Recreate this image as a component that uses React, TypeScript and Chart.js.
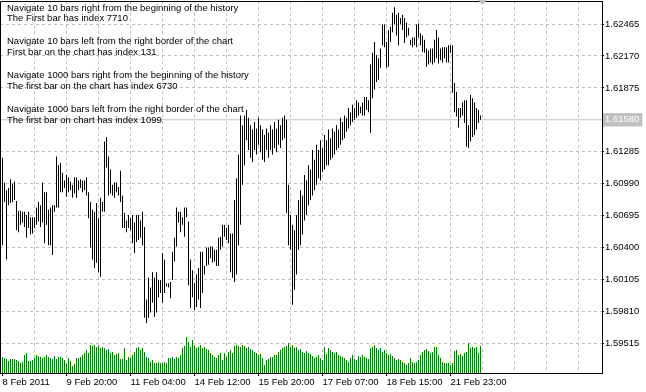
import React, { useEffect, useRef } from "react";
import { Chart, registerables } from "chart.js";

Chart.register(...registerables);

// ---- data -------------------------------------------------------------
const xLabels = [
  "8 Feb 2011",
  "9 Feb 20:00",
  "11 Feb 04:00",
  "14 Feb 12:00",
  "15 Feb 20:00",
  "17 Feb 07:00",
  "18 Feb 15:00",
  "21 Feb 23:00",
];

const priceTicks = [
  1.59515, 1.5981, 1.60105, 1.604, 1.60695, 1.6099, 1.61285, 1.6158, 1.61875,
  1.6217, 1.62465,
];

const bidPrice = 1.6158;
const priceMin = 1.5924;
const priceMax = 1.62678;

const comments = [
  "Navigate 10 bars right from the beginning of the history",
  "The First bar has index 7710",
  "Navigate 10 bars left from the right border of the chart",
  "First bar on the chart has index 131",
  "Navigate 1000 bars right from the beginning of the history",
  "The first bar on the chart has index 6730",
  "Navigate 1000 bars left from the right border of the chart",
  "The first bar on chart has index 1099",
];

const highs = [
  1.6123, 1.61, 1.6093, 1.6095, 1.6103, 1.6099, 1.6101, 1.6083, 1.6074, 1.6074,
  1.6073, 1.6073, 1.607, 1.6073, 1.6068, 1.6068, 1.6068, 1.6077, 1.6082, 1.6079,
  1.61, 1.6091, 1.6091, 1.6075, 1.6077, 1.6079, 1.6079, 1.6124, 1.6116, 1.6118,
  1.6109, 1.6102, 1.6107, 1.6105, 1.6101, 1.6098, 1.6105, 1.6105, 1.6102, 1.6103,
  1.6102, 1.6102, 1.6105, 1.6091, 1.6082, 1.6075, 1.6073, 1.6081, 1.6067, 1.6086,
  1.6082, 1.6138, 1.6142, 1.6124, 1.6112, 1.6098, 1.61, 1.61, 1.6096, 1.6111,
  1.6088, 1.6072, 1.6065, 1.607, 1.6067, 1.607, 1.6063, 1.607, 1.607, 1.6065,
  1.6073, 1.6059, 1.5992, 1.6012, 1.6003, 1.6017, 1.6012, 1.6017, 1.601, 1.601,
  1.6035, 1.6029, 1.6007, 1.6007, 1.6008, 1.6036, 1.6049, 1.6077, 1.6073, 1.6073,
  1.6068, 1.6077, 1.6077, 1.6064, 1.6029, 1.6019, 1.6007, 1.6015, 1.6021, 1.6036,
  1.6036, 1.6023, 1.604, 1.604, 1.6041, 1.6041, 1.6038, 1.6038, 1.6049, 1.605,
  1.6061, 1.6061, 1.6058, 1.6061, 1.6053, 1.6053, 1.6084, 1.6104, 1.6126, 1.6162,
  1.6153, 1.6162, 1.6167, 1.616, 1.6153, 1.6149, 1.6156, 1.615, 1.616, 1.6153,
  1.6149, 1.6144, 1.615, 1.6146, 1.6153, 1.6149, 1.6156, 1.615, 1.6158, 1.6153,
  1.616, 1.6162, 1.6158, 1.6098, 1.607, 1.6061, 1.6056, 1.607, 1.6084, 1.6093,
  1.6088, 1.6107, 1.6102, 1.6116, 1.6112, 1.613, 1.6121, 1.6135, 1.613, 1.6139,
  1.6132, 1.6144, 1.6139, 1.6149, 1.6141, 1.615, 1.6147, 1.6153, 1.6149, 1.616,
  1.6156, 1.6162, 1.616, 1.6169, 1.6165, 1.6172, 1.6169, 1.6176, 1.6174, 1.617,
  1.6174, 1.6179, 1.6179, 1.6176, 1.6209, 1.622, 1.623, 1.6218, 1.6215, 1.6224,
  1.6246, 1.6246, 1.623, 1.6241, 1.6244, 1.6257, 1.6262, 1.6255, 1.6257, 1.6252,
  1.6255, 1.6252, 1.6248, 1.6243, 1.6232, 1.6234, 1.6234, 1.6246, 1.6247, 1.6238,
  1.6236, 1.6232, 1.6224, 1.6222, 1.6224, 1.6224, 1.6232, 1.6241, 1.6234, 1.6224,
  1.6225, 1.6225, 1.6225, 1.6227, 1.6227, 1.6227, 1.6192, 1.6184, 1.6169, 1.6169,
  1.6174, 1.6176, 1.6176, 1.6153, 1.6181, 1.6178, 1.6174, 1.6169, 1.6167, 1.6162,
];

const lows = [
  1.6042, 1.6082, 1.6029, 1.6079, 1.6081, 1.6082, 1.6084, 1.6056, 1.6054, 1.6061,
  1.6063, 1.6059, 1.6049, 1.6058, 1.6052, 1.6053, 1.6058, 1.6061, 1.6064, 1.6059,
  1.6063, 1.6044, 1.6061, 1.6042, 1.6042, 1.6033, 1.6073, 1.6077, 1.6077, 1.6091,
  1.6091, 1.6095, 1.6087, 1.6091, 1.6093, 1.6086, 1.609, 1.6086, 1.6093, 1.6095,
  1.6091, 1.6093, 1.6088, 1.6067, 1.604, 1.6029, 1.6021, 1.6026, 1.6017, 1.6013,
  1.6073, 1.6073, 1.6114, 1.6088, 1.609, 1.6088, 1.6086, 1.6091, 1.6088, 1.6082,
  1.6058, 1.6058, 1.6054, 1.6058, 1.6056, 1.6044, 1.6035, 1.6045, 1.6047, 1.6049,
  1.6042, 1.5975, 1.597, 1.5975, 1.598, 1.5989, 1.5976, 1.598, 1.5994, 1.5998,
  1.5989, 1.5998, 1.6004, 1.6003, 1.5993, 1.601, 1.6027, 1.6041, 1.6063, 1.6054,
  1.6061, 1.605, 1.6068, 1.6005, 1.5984, 1.5994, 1.5982, 1.5985, 1.5992, 1.5984,
  1.5998, 1.6015, 1.6023, 1.6024, 1.603, 1.6026, 1.6027, 1.6023, 1.6023, 1.6038,
  1.6041, 1.605, 1.6047, 1.6044, 1.6017, 1.6012, 1.6008, 1.6015, 1.6042, 1.6061,
  1.6098, 1.6116, 1.6139, 1.613, 1.6123, 1.6119, 1.613, 1.6126, 1.6135, 1.6128,
  1.6121, 1.6119, 1.613, 1.6123, 1.613, 1.6126, 1.6132, 1.6128, 1.6135, 1.6132,
  1.6139, 1.6141, 1.6072, 1.6042, 1.6038, 1.5987, 1.6001, 1.6015, 1.6038, 1.6042,
  1.6052, 1.6065, 1.607, 1.6079, 1.6084, 1.6088, 1.6093, 1.6098, 1.6104, 1.6102,
  1.611, 1.6112, 1.6116, 1.6116, 1.6121, 1.6123, 1.6126, 1.613, 1.6132, 1.6135,
  1.6139, 1.6141, 1.6147, 1.615, 1.6153, 1.6156, 1.6158, 1.616, 1.6162, 1.6164,
  1.6162, 1.6162, 1.6167, 1.6165, 1.6146, 1.6178, 1.6186, 1.6193, 1.6195, 1.6206,
  1.6227, 1.6225, 1.6206, 1.6207, 1.623, 1.6239, 1.6246, 1.6236, 1.6227, 1.6246,
  1.6241, 1.6229, 1.6234, 1.6236, 1.6227, 1.6225, 1.6227, 1.6225, 1.6234, 1.6227,
  1.6221, 1.622, 1.6207, 1.6209, 1.6211, 1.6209, 1.6211, 1.6215, 1.621, 1.6213,
  1.6211, 1.6215, 1.6211, 1.6211, 1.622, 1.6183, 1.6165, 1.6161, 1.6151, 1.616,
  1.6162, 1.6155, 1.6133, 1.6132, 1.6138, 1.6142, 1.6144, 1.6149, 1.6155, 1.6158,
];

const volumes = [
  16, 15, 14, 12, 14, 14, 14, 13, 12, 10, 11, 18, 20, 12, 12, 13, 15, 18, 17, 16,
  15, 16, 18, 16, 15, 14, 17, 14, 16, 16, 15, 13, 9, 15, 12, 7, 9, 15,
  15, 16, 18, 20, 23, 20, 28, 27, 28, 26, 27, 25, 26, 25, 23, 24, 20, 21, 18, 19,
  20, 14, 14, 25, 13, 16, 15, 18, 21, 25, 26, 23, 25,
  21, 16, 15, 11, 13, 10, 10, 11, 10, 10,
  11, 10, 15, 15, 16, 14, 16, 15, 18, 25,
  27, 36, 31, 26, 33, 27, 25, 26, 28, 25,
  26, 24, 23, 20, 18, 16, 15, 18, 20, 13,
  20, 16, 21, 23, 20, 27, 28, 27, 26, 28,
  27, 25, 26, 24, 23, 21, 20, 18, 19, 15,
  8, 13, 14, 16, 16, 18, 18, 21, 23, 25,
  26, 27, 30, 26, 28, 25, 26, 23, 24, 21,
  20, 22, 20, 19, 17, 15, 16, 18, 15, 13,
  26, 19,
  25, 23, 21, 20, 21, 18, 17, 16, 15, 13,
  11, 15, 18, 14, 13, 17, 16, 18, 16, 15,
  14, 25, 26, 28, 25, 23, 25, 21, 23, 20,
  18, 19, 17, 15, 13, 14, 13, 11, 10, 8,
  10, 15, 11, 10, 11, 13, 18, 21, 23, 24,
  22, 20, 21, 26, 26, 18, 15, 11, 10, 10,
  10, 8, 10, 22, 23, 18, 19, 17, 20, 21,
  30, 25, 26, 25, 26, 20, 27,
];

const volumeMax = 372;
const barsPerGrid = 16;
const barsPerLabel = 32;
const xMin = -1.25;
const xMax = 299.75;

// ---- component --------------------------------------------------------
const FONT = "Liberation Sans";
const FONT_SIZE = 9.5;

export default function App() {
  const ref = useRef<HTMLCanvasElement>(null);

  useEffect(() => {
    document.body.style.margin = "0";
    const canvas = ref.current;
    if (!canvas) return;

    const gridValues: number[] = [];
    for (let v = 0; v <= xMax; v += barsPerGrid) gridValues.push(v);

    const isLabelTick = (v: number) =>
      v % barsPerLabel === 0 && v / barsPerLabel < xLabels.length;

    const mtPlugin = {
      id: "mtFrame",
      afterDraw(chart: any) {
        const { ctx, chartArea: a, scales } = chart;
        ctx.save();
        ctx.strokeStyle = "#000";
        ctx.lineWidth = 1;
        ctx.beginPath();
        ctx.moveTo(a.left + 0.5, a.bottom);
        ctx.lineTo(a.left + 0.5, a.top + 0.5);
        ctx.lineTo(a.right, a.top + 0.5);
        ctx.stroke();

        ctx.fillStyle = "#000";
        ctx.font = `${FONT_SIZE}px "${FONT}"`;
        ctx.textAlign = "left";
        ctx.textBaseline = "alphabetic";
        comments.forEach((t, k) => {
          const y = a.top + 9.5 + 33.8 * Math.floor(k / 2) + 10.8 * (k % 2);
          ctx.fillText(t, a.left + 7, y);
        });

        const sx = scales.x.getPixelForValue(highs.length);
        ctx.fillStyle = "#c0c0c0";
        ctx.beginPath();
        ctx.moveTo(sx - 4.5, 0);
        ctx.lineTo(sx + 4.5, 0);
        ctx.lineTo(sx, 5);
        ctx.closePath();
        ctx.fill();
        ctx.restore();
      },
    };

    const chart = new Chart(canvas, {
      type: "bar",
      data: {
        datasets: [
          {
            type: "bar",
            label: "Volume",
            data: volumes.map((v, i) => ({ x: i, y: v })),
            yAxisID: "vol",
            backgroundColor: "#008000",
            barThickness: 1,
            grouped: false,
            inflateAmount: 0,
            order: 3,
          } as any,
          {
            type: "bar",
            label: "Price",
            data: highs.map((h, i) => ({ x: i, y: [lows[i], h] })),
            yAxisID: "y",
            backgroundColor: "#000",
            barThickness: 1,
            grouped: false,
            inflateAmount: 0,
            order: 1,
          } as any,
          {
            type: "line",
            label: "Bid",
            data: [
              { x: xMin, y: bidPrice },
              { x: xMax, y: bidPrice },
            ],
            yAxisID: "y",
            borderColor: "#c0c0c0",
            borderWidth: 1,
            pointRadius: 0,
            order: 2,
          } as any,
        ],
      },
      options: {
        animation: false,
        responsive: false,
        devicePixelRatio: 1,
        layout: { padding: { top: 1, left: 0, right: 0, bottom: 0 } },
        plugins: {
          legend: { display: false },
          tooltip: { enabled: false },
        },
        scales: {
          x: {
            type: "linear",
            min: xMin,
            max: xMax,
            offset: false,
            position: "bottom",
            afterBuildTicks: (s: any) => {
              s.ticks = gridValues.map((v) => ({ value: v }));
            },
            afterFit: (s: any) => {
              s.height = 19;
              s.paddingLeft = 0;
              s.paddingRight = 0;
            },
            ticks: {
              autoSkip: false,
              maxRotation: 0,
              minRotation: 0,
              align: "start",
              padding: 1,
              color: "#000",
              font: { family: FONT, size: FONT_SIZE },
              callback: (v: any) =>
                isLabelTick(Number(v)) ? xLabels[Number(v) / barsPerLabel] : "",
            },
            grid: {
              offset: false,
              color: (c: any) =>
                c.tick && c.tick.value > 0 ? "#c0c0c0" : "rgba(0,0,0,0)",
              tickColor: (c: any) =>
                c.tick && isLabelTick(c.tick.value) ? "#000" : "rgba(0,0,0,0)",
              tickLength: 3,
              lineWidth: 1,
            },
            border: { display: true, color: "#000", width: 1, dash: [3, 3] },
          } as any,
          y: {
            type: "linear",
            position: "right",
            min: priceMin,
            max: priceMax,
            afterBuildTicks: (s: any) => {
              s.ticks = priceTicks.map((v) => ({ value: v }));
            },
            afterFit: (s: any) => {
              s.width = 44;
              s.paddingTop = 0;
              s.paddingBottom = 0;
            },
            ticks: {
              padding: 1,
              font: { family: FONT, size: FONT_SIZE },
              color: (c: any) =>
                c.tick && c.tick.value === bidPrice ? "#fff" : "#000",
              showLabelBackdrop: (c: any) =>
                !!(c.tick && c.tick.value === bidPrice),
              backdropColor: "#c0c0c0",
              backdropPadding: { left: 2, right: 3, top: 1, bottom: 1 },
              callback: (v: any) => Number(v).toFixed(5),
            },
            grid: {
              color: (c: any) =>
                c.tick && c.tick.value === bidPrice ? "rgba(0,0,0,0)" : "#c0c0c0",
              tickColor: "#000",
              tickLength: 2,
              lineWidth: 1,
            },
            border: { display: true, color: "#000", width: 1, dash: [3, 3] },
          } as any,
          vol: {
            type: "linear",
            display: false,
            min: 0,
            max: volumeMax,
          },
        },
      } as any,
      plugins: [mtPlugin],
    });

    return () => chart.destroy();
  }, []);

  return (
    <div style={{ position: "absolute", left: 0, top: 0, width: 646, height: 392, background: "#fff" }}>
      <canvas ref={ref} width={646} height={392} style={{ display: "block" }} />
    </div>
  );
}
